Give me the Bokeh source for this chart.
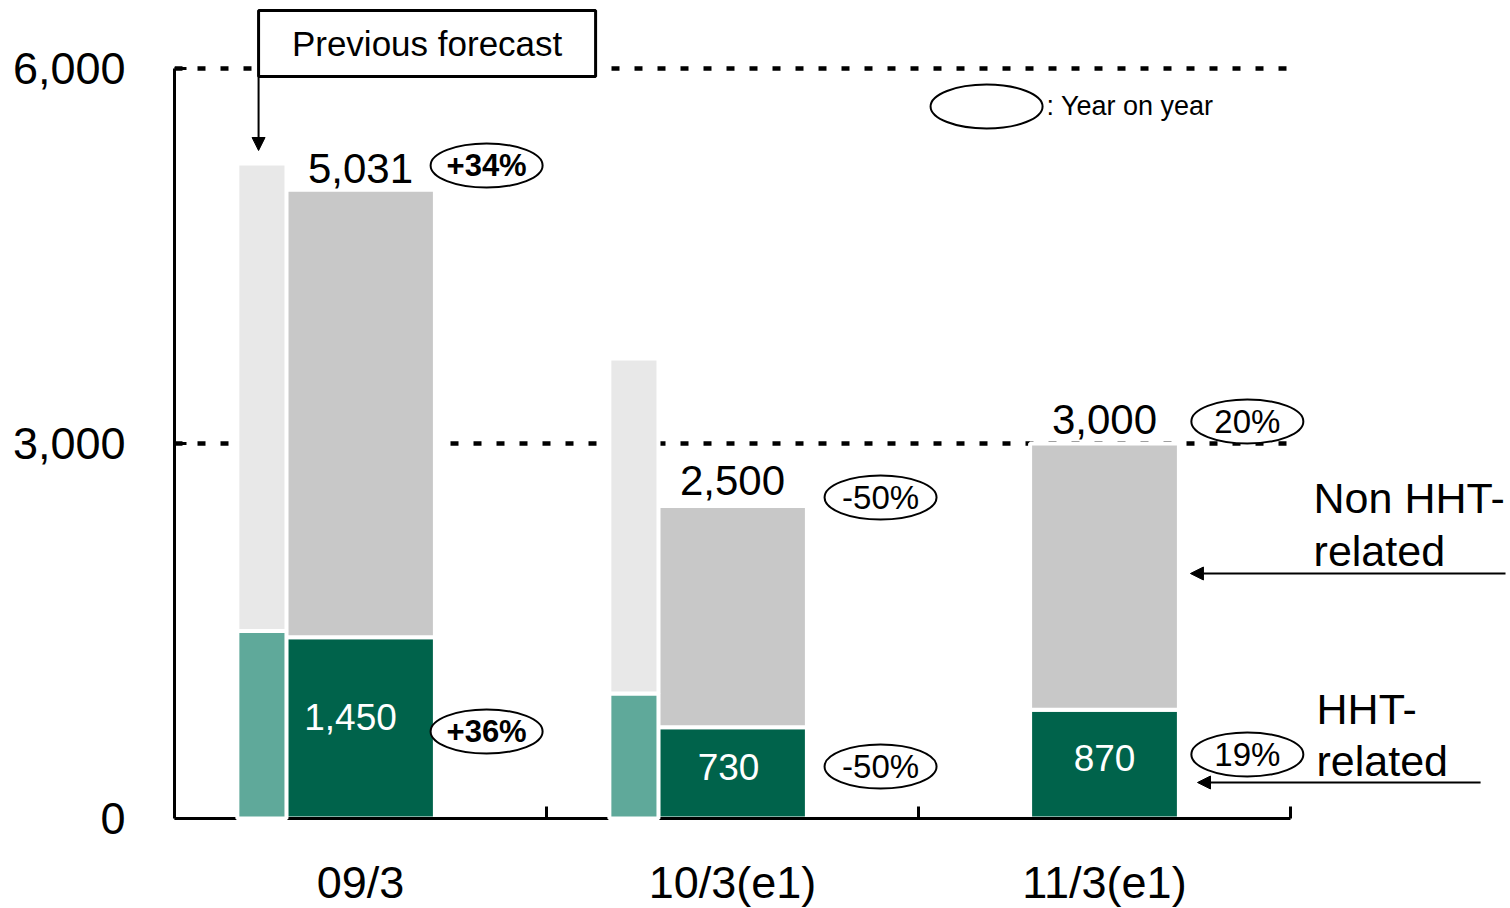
from bokeh.plotting import figure
from bokeh.models import (ColumnDataSource, FixedTicker, Range1d, Arrow, NormalHead,
                          NumeralTickFormatter)
from bokeh.core.properties import value
from bokeh.embed import file_html
from bokeh.resources import INLINE

# ---------------- data ----------------
categories = ["09/3", "10/3(e1)", "11/3(e1)"]
total = [5031, 2500, 3000]          # total sales
hht = [1450, 730, 870]              # HHT-related part
prev_total = [5240, 3680]           # previous forecast (09/3, 10/3)
prev_hht = [1500, 1000]
yoy_total = ["+34%", "-50%", "20%"]
yoy_hht = ["+36%", "-50%", "19%"]
y_ticks = [0, 3000, 6000]

# ---------------- layout (positions / styles) ----------------
FONT = value("Liberation Sans")
GREEN = "#00634B"
TEAL = "#5FA99A"
GREY = "#C8C8C8"
LIGHT = "#E8E8E8"
cat_x = [0.5, 1.5, 2.5]
BAR_W = 0.40
PREV_DX = -0.265
PREV_W = 0.132
total_dy = [169, 204, 192]
hht_label_frac = 0.56
hht_label_dx = [-10, -4, 0]
yoy_x = [0.839, 1.898, 2.884]
yoy_total_y = [5224, 2568, 3176]
yoy_hht_y = [696, 416, 512]

p = figure(width=1510, height=908, output_backend="svg", toolbar_location=None,
           x_range=Range1d(0, 1336 / 372), y_range=Range1d(-720, 6544),
           x_axis_location=None,
           min_border_left=174, min_border_right=0, min_border_top=0, min_border_bottom=0)
p.outline_line_color = None
p.grid.visible = False

# y axis
ya = p.yaxis[0]
ya.ticker = FixedTicker(ticks=y_ticks)
ya.bounds = (0, 6000)
ya.formatter = NumeralTickFormatter(format="0,0")
ya.axis_line_width = 3
ya.major_tick_in = 12
ya.major_tick_out = 0
ya.major_tick_line_width = 3
ya.minor_tick_line_color = None
ya.major_label_standoff = 49
ya.major_label_text_font = "Liberation Sans"
ya.major_label_text_font_size = "45px"
ya.major_label_text_color = "black"

# dotted reference lines
p.segment(x0=[0, 0], x1=[3, 3], y0=[3000, 6000], y1=[3000, 6000],
          line_color="black", line_width=4.5, line_dash="8 15")

# current bars
src = ColumnDataSource(dict(x=cat_x, total=total, hht=hht))
p.vbar(x="x", width=BAR_W, bottom=0, top="hht", source=src,
       fill_color=GREEN, line_color="white", line_width=4)
p.vbar(x="x", width=BAR_W, bottom="hht", top="total", source=src,
       fill_color=GREY, line_color="white", line_width=4)

# x axis line and boundary ticks
p.segment(x0=[0], x1=[3], y0=[0], y1=[0], line_color="black", line_width=3)
bounds_x = [1, 2, 3]
p.segment(x0=bounds_x, x1=bounds_x, y0=[0] * 3, y1=[96] * 3, line_color="black", line_width=3)

# previous forecast bars
prev_x = [c + PREV_DX for c in cat_x[:2]]
psrc = ColumnDataSource(dict(x=prev_x, total=prev_total, hht=prev_hht))
p.vbar(x="x", width=PREV_W, bottom=0, top="hht", source=psrc,
       fill_color=TEAL, line_color="white", line_width=4)
p.vbar(x="x", width=PREV_W, bottom="hht", top="total", source=psrc,
       fill_color=LIGHT, line_color="white", line_width=4)

# category labels
p.text(x=cat_x, y=[-512] * 3, text=categories, text_align="center", text_baseline="middle",
       text_font=FONT, text_font_size="45px", text_color="black")

# total value labels
p.text(x=cat_x, y=[t + d for t, d in zip(total, total_dy)], text=[f"{v:,}" for v in total],
       text_align="center", text_baseline="middle",
       text_font=FONT, text_font_size="42px", text_color="black")

# HHT value labels
p.text(x=cat_x, y=[h * hht_label_frac for h in hht], text=[f"{v:,}" for v in hht],
       x_offset=hht_label_dx, text_align="center", text_baseline="middle",
       text_font=FONT, text_font_size="37px", text_color="white")

# YoY ellipses
ex = yoy_x + yoy_x + [2.183]
ey = yoy_total_y + yoy_hht_y + [5696]
p.ellipse(x=ex, y=ey, width=112, height=44, width_units="screen", height_units="screen",
          fill_color="white", line_color="black", line_width=2)
p.text(x=[yoy_x[0], yoy_x[0]], y=[yoy_total_y[0], yoy_hht_y[0]],
       text=[yoy_total[0], yoy_hht[0]], text_align="center", text_baseline="middle",
       text_font=FONT, text_font_size="31px", text_font_style="bold", text_color="black")
p.text(x=yoy_x[1:] + yoy_x[1:], y=yoy_total_y[1:] + yoy_hht_y[1:],
       text=yoy_total[1:] + yoy_hht[1:], text_align="center", text_baseline="middle",
       text_font=FONT, text_font_size="33px", text_color="black")
p.text(x=[2.344], y=[5704], text=[": Year on year"], text_align="left", text_baseline="middle",
       text_font=FONT, text_font_size="27px", text_color="black")

# previous forecast box + arrow
p.quad(left=[0.226], right=[1.132], top=[6464], bottom=[5936],
       fill_color="white", line_color="black", line_width=3)
p.text(x=[0.679], y=[6200], text=["Previous forecast"], text_align="center", text_baseline="middle",
       text_font=FONT, text_font_size="35px", text_color="black")
p.add_layout(Arrow(x_start=0.226, y_start=5936, x_end=0.226, y_end=5344,
                   line_width=2, line_color="black",
                   end=NormalHead(size=13, fill_color="black", line_color="black")))

# right side labels and arrows
p.text(x=[3.062, 3.062, 3.070, 3.070], y=[2568, 2144, 880, 464],
       text=["Non HHT-", "related", "HHT-", "related"], text_align="left", text_baseline="middle",
       text_font=FONT, text_font_size="43px", text_color="black")
p.add_layout(Arrow(x_start=3.578, y_start=1960, x_end=2.731, y_end=1960,
                   line_width=2, line_color="black",
                   end=NormalHead(size=13, fill_color="black", line_color="black")))
p.add_layout(Arrow(x_start=3.511, y_start=288, x_end=2.750, y_end=288,
                   line_width=2, line_color="black",
                   end=NormalHead(size=13, fill_color="black", line_color="black")))

open("out.html", "w").write(file_html(p, INLINE))
